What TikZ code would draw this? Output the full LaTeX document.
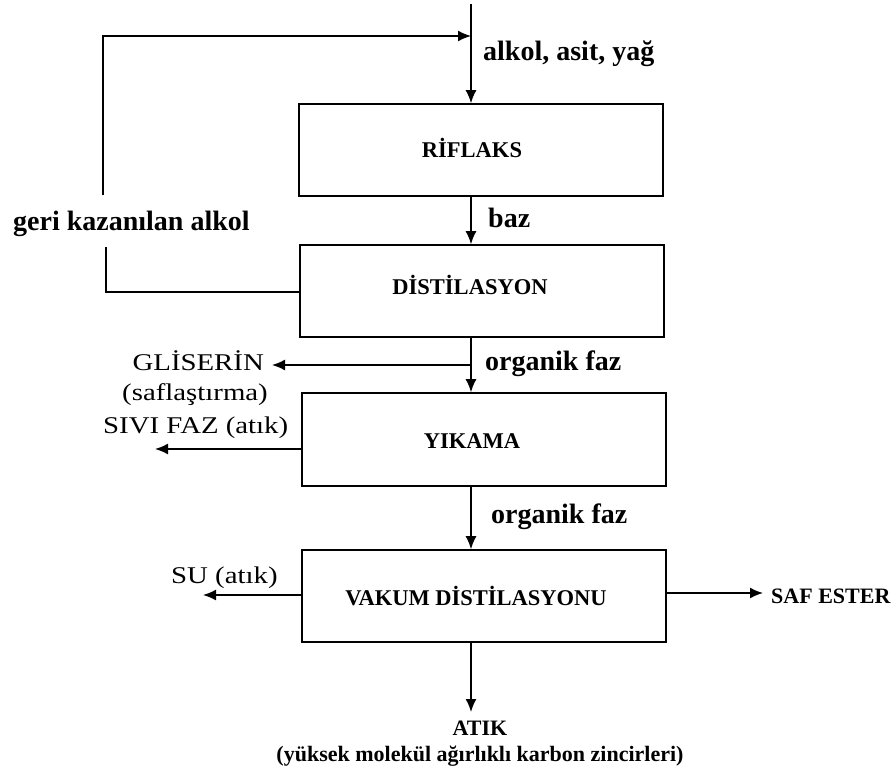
\documentclass[tikz,border=0pt]{standalone}
\usepackage{fontspec}
\setmainfont{Liberation Serif}
\newfontfamily\widefont[FakeStretch=1.2]{Liberation Serif}
\usetikzlibrary{arrows.meta}
\begin{document}
\begin{tikzpicture}[x=1pt,y=-1pt,
  flow/.style={line width=1.6pt, -{Latex[length=13pt,width=11pt]}},
  plain/.style={line width=1.6pt},
  unit/.style={draw, line width=1.6pt, minimum width=364pt, minimum height=92pt, inner sep=0pt},
  unitname/.style={font=\bfseries\fontsize{22.5}{24}\selectfont, inner sep=0pt, anchor=base},
  tag/.style={font=\bfseries\fontsize{28}{30}\selectfont, inner sep=0pt, anchor=base west},
  side/.style={font=\widefont\fontsize{24}{26}\selectfont, inner sep=0pt},
  prod/.style={font=\bfseries\fontsize{22}{24}\selectfont, inner sep=0pt}]
\useasboundingbox (0,0) rectangle (893,771);

% process units
\node[unit] (riflaks) at (481,150) {};
\node[unit] (distil)  at (482,291) {};
\node[unit, minimum height=93pt] (yikama) at (484,439.5) {};
\node[unit] (vakum)   at (484,596) {};

\node[unitname] (riflaksT) at (472,157) {RİFLAKS};
\node[unitname] (distilT)  at (470,294) {DİSTİLASYON};
\node[unitname] (yikamaT)  at (472,448) {YIKAMA};
\node[unitname] (vakumT)   at (476,605) {VAKUM DİSTİLASYONU};

% main flow axis and free ends
\coordinate (src)  at (471,4);
\coordinate (jg)   at (471,365);
\coordinate (gEnd) at (272,365);
\coordinate (sEnd) at (155,449);
\coordinate (uEnd) at (203,595);
\coordinate (eEnd) at (763,593);
\coordinate (aEnd) at (471,712);

\draw[flow] (src) -- (riflaks.north -| src);
\draw[flow] (riflaks.south -| src) -- (distil.north -| src);
\draw[flow] (distil.south -| src) -- (yikama.north -| src);
\draw[flow] (jg) -- (gEnd);
\draw[flow] (sEnd -| yikama.west) -- (sEnd);
\draw[flow] (yikama.south -| src) -- (vakum.north -| src);
\draw[flow] (uEnd -| vakum.west) -- (uEnd);
\draw[flow] (eEnd -| vakum.east) -- (eEnd);
\draw[flow] (vakum.south -| src) -- (aEnd);

% recycled alcohol loop
\coordinate (fbTop)  at (103,36);
\coordinate (fbBrk1) at (103,195);
\coordinate (fbBrk2) at (106,247);
\coordinate (fbLow)  at (106,292);
\draw[plain] (fbLow -| distil.west) -- (fbLow) -- (fbBrk2);
\draw[flow] (fbBrk1) -- (fbTop) -- (fbTop -| src);

% stream labels
\node[tag] (inTag)  at (483,60)  {alkol, asit, yağ};
\node[tag] (bazTag) at (488,227) {baz};
\node[tag] (org1)   at (485,370) {organik faz};
\node[tag] (org2)   at (491,523) {organik faz};
\node[tag] (geri)   at (13,230)  {geri kazanılan alkol};

\node[side, anchor=base east] (glis)  at (264,370) {GLİSERİN};
\node[side, anchor=base]      (glis2) at (195,400) {(saflaştırma)};
\node[side, anchor=base west] (sivi)  at (103,433) {SIVI FAZ (atık)};
\node[side, anchor=base west] (su)    at (171,583) {SU (atık)};

\node[prod, anchor=base west] (saf)   at (771,603) {SAF ESTER};
\node[prod, anchor=base]      (atik)  at (480,735) {ATIK};
\node[prod, anchor=base]      (atik2) at (480,761) {(yüksek molekül ağırlıklı karbon zincirleri)};
\end{tikzpicture}
\end{document}
